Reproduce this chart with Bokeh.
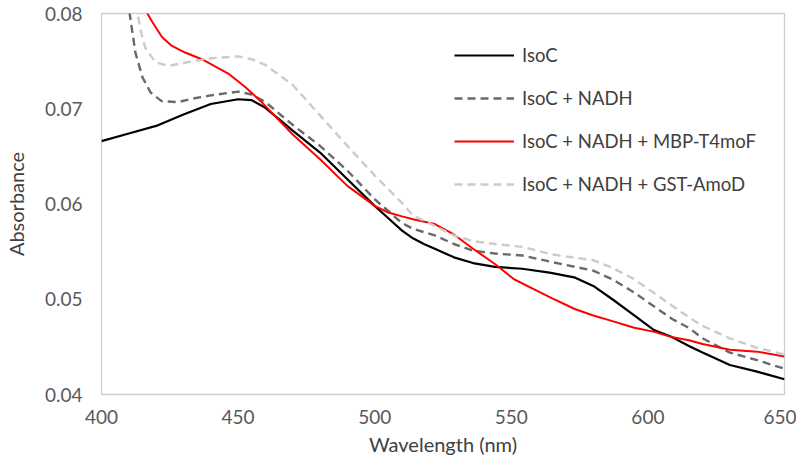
from bokeh.plotting import figure
from bokeh.models import Range1d, FixedTicker, Legend, LegendItem
from bokeh.embed import file_html
from bokeh.resources import INLINE

# ---- data ----
isoc_x = [400, 410, 420, 430, 440, 450, 455, 460, 470, 480, 490, 500, 505, 510, 514, 518, 522, 529,
          536, 544, 554, 564, 573, 580, 587, 595, 602, 609, 615, 620, 630, 640, 650]
isoc_y = [0.0666, 0.0674, 0.0682, 0.0694, 0.0705, 0.0710, 0.0709, 0.0701, 0.0677, 0.0654, 0.0626,
          0.0598, 0.0585, 0.0572, 0.0564, 0.0558, 0.0553, 0.0544, 0.0538, 0.0534, 0.0532, 0.0528,
          0.0523, 0.0514, 0.0500, 0.0483, 0.0468, 0.0460, 0.0451, 0.0444, 0.0431, 0.0424, 0.0416]

nadh_x = [409.5, 410.3, 412.4, 415, 418, 422, 428, 434, 440, 450, 455, 460, 470, 480, 490, 500,
          510, 514, 522, 529, 536, 544, 554, 565, 580, 587, 595, 602, 609, 615, 620, 630, 640, 650]
nadh_y = [0.0815, 0.0800, 0.0759, 0.0733, 0.0717, 0.0708, 0.0707, 0.0711, 0.0714, 0.0718, 0.0715,
          0.0707, 0.0683, 0.0661, 0.0635, 0.0605, 0.0580, 0.0574, 0.0567, 0.0558, 0.0551, 0.0548,
          0.0546, 0.0539, 0.0530, 0.0521, 0.0507, 0.0493, 0.0479, 0.0470, 0.0459, 0.0444, 0.0436,
          0.0427]

mbp_x = [416.0, 416.8, 418.6, 422.2, 425.8, 430.6, 436.7, 446.4, 452.5, 458.6, 470, 480, 490, 500,
         505, 510, 514, 522, 529, 536, 544, 551, 558, 565, 573, 580, 587, 595, 602, 609, 615, 620,
         630, 640, 650]
mbp_y = [0.0810, 0.0800, 0.0791, 0.0775, 0.0766, 0.0759, 0.0752, 0.0737, 0.0723, 0.0707, 0.0673,
         0.0647, 0.0619, 0.0598, 0.0591, 0.0587, 0.0584, 0.0579, 0.0568, 0.0553, 0.0537, 0.0521,
         0.0511, 0.0501, 0.0490, 0.0483, 0.0477, 0.0470, 0.0466, 0.0460, 0.0457, 0.0453, 0.0447,
         0.0445, 0.0440]

gst_x = [412.5, 413.2, 414.5, 416, 419.7, 424.4, 431.7, 440, 450, 455, 460, 470, 480, 490, 500,
         510, 514, 522, 529, 536, 544, 554, 565, 580, 587, 595, 602, 609, 615, 620, 630, 640, 650]
gst_y = [0.0810, 0.0800, 0.0780, 0.0764, 0.0749, 0.0745, 0.0749, 0.0753, 0.0755, 0.0752, 0.0746,
         0.0725, 0.0693, 0.0661, 0.0630, 0.0601, 0.0588, 0.0577, 0.0567, 0.0561, 0.0558, 0.0555,
         0.0547, 0.0541, 0.0533, 0.0521, 0.0507, 0.0493, 0.0481, 0.0472, 0.0459, 0.0449, 0.0442]

series_names = ["IsoC", "IsoC + NADH", "IsoC + NADH + MBP-T4moF", "IsoC + NADH + GST-AmoD"]

x_ticks = [400, 450, 500, 550, 600, 650]
y_ticks = [0.04, 0.05, 0.06, 0.07, 0.08]
y_tick_labels = ["0.04", "0.05", "0.06", "0.07", "0.08"]

FONT = "Lato"
TEXT = "#595959"

p = figure(width=796, height=460, output_backend="svg", toolbar_location=None,
           x_range=Range1d(400, 650), y_range=Range1d(0.04, 0.08),
           min_border_left=98, min_border_right=12, min_border_top=13, min_border_bottom=66)

p.xgrid.visible = False
p.ygrid.visible = False
p.outline_line_color = "#d0d0d0"
p.outline_line_width = 1.3
p.background_fill_color = "white"
p.border_fill_color = "white"

r1 = p.line(isoc_x, isoc_y, line_color="black", line_width=2.2)
r2 = p.line(nadh_x, nadh_y, line_color="#6a6a6a", line_width=2.4, line_dash="8 5")
r3 = p.line(mbp_x, mbp_y, line_color="#ff0000", line_width=2.0)
r4 = p.line(gst_x, gst_y, line_color="#cbcbcb", line_width=2.4, line_dash="8 5")

for ax in (p.xaxis[0], p.yaxis[0]):
    ax.axis_line_color = None
    ax.major_tick_line_color = None
    ax.minor_tick_line_color = None
    ax.major_tick_out = 0
    ax.major_tick_in = 0
    ax.minor_tick_out = 0
    ax.major_label_text_font = FONT
    ax.major_label_text_font_size = "19px"
    ax.major_label_text_color = TEXT
    ax.axis_label_text_font = FONT
    ax.axis_label_text_font_size = "20px"
    ax.axis_label_text_font_style = "normal"
    ax.axis_label_text_color = "#404040"

p.xaxis.ticker = FixedTicker(ticks=x_ticks)
p.yaxis.ticker = FixedTicker(ticks=y_ticks)
p.yaxis.major_label_overrides = {t: l for t, l in zip(y_ticks, y_tick_labels)}
p.xaxis.axis_label = "Wavelength (nm)"
p.yaxis.axis_label = "Absorbance"
p.xaxis.major_label_standoff = 15
p.yaxis.major_label_standoff = 19
p.xaxis.axis_label_standoff = 5
p.yaxis.axis_label_standoff = 14

legend = Legend(items=[LegendItem(label=n, renderers=[r]) for n, r in zip(series_names, [r1, r2, r3, r4])],
                location=(353, 199), padding=0, margin=0, spacing=21,
                glyph_width=60, glyph_height=20, label_height=20, label_standoff=8,
                label_text_font=FONT, label_text_font_size="18.5px", label_text_color="#404040",
                border_line_color=None, background_fill_alpha=0)
p.add_layout(legend)

open("out.html", "w").write(file_html(p, INLINE))
